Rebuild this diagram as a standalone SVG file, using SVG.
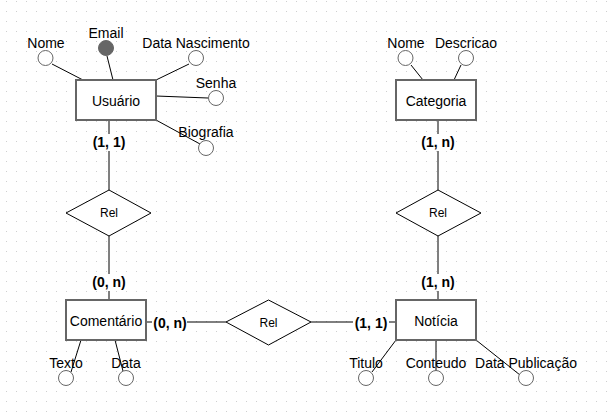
<svg xmlns="http://www.w3.org/2000/svg" width="610" height="412" viewBox="0 0 610 412">
<defs>
<pattern id="grid" x="6" y="1" width="10" height="10" patternUnits="userSpaceOnUse">
<rect x="0" y="0" width="1" height="1" fill="#cfcfcf"/>
</pattern>
<style>
.ent{fill:#fff;stroke:#666;stroke-width:2}
.rel{fill:#fff;stroke:#000;stroke-width:1}
.att{fill:#fff;stroke:#666;stroke-width:1}
.key{fill:#666;stroke:#666;stroke-width:1}
.ln{stroke:#000;stroke-width:1;fill:none}
text{font-family:"Liberation Sans",Arial,sans-serif;font-size:14px;fill:#000;text-anchor:middle;dominant-baseline:central}
.small{font-size:12px}
.card{font-weight:bold}
.bg{fill:#fff}
</style>
</defs>
<rect width="610" height="412" fill="#fff"/>
<rect width="610" height="412" fill="url(#grid)"/>

<g id="connectors">
<line class="ln" x1="52" y1="64" x2="83" y2="80"/>
<line class="ln" x1="107" y1="56" x2="113" y2="80"/>
<line class="ln" x1="189" y1="64" x2="156" y2="80"/>
<line class="ln" x1="156" y1="96" x2="208" y2="98"/>
<line class="ln" x1="156" y1="120" x2="200" y2="144"/>
<line class="ln" x1="411" y1="65" x2="423" y2="80"/>
<line class="ln" x1="461" y1="65" x2="454" y2="80"/>
<line class="ln" x1="81" y1="340" x2="71" y2="372"/>
<line class="ln" x1="115" y1="340" x2="123" y2="371"/>
<line class="ln" x1="396" y1="340" x2="372" y2="372"/>
<line class="ln" x1="436" y1="340" x2="436" y2="371"/>
<line class="ln" x1="476" y1="340" x2="520" y2="375"/>
<line class="ln" x1="109" y1="120" x2="109" y2="190"/>
<line class="ln" x1="109" y1="236" x2="109" y2="300"/>
<line class="ln" x1="438" y1="120" x2="438" y2="190"/>
<line class="ln" x1="438" y1="236" x2="438" y2="300"/>
<line class="ln" x1="146" y1="322" x2="226" y2="322"/>
<line class="ln" x1="311" y1="322" x2="396" y2="322"/>
<g id="card-usuario"><rect class="bg" x="91" y="134" width="36" height="17"/><text class="card" x="109" y="142">(1, 1)</text></g>
<g id="card-comentario-top"><rect class="bg" x="91" y="274" width="36" height="17"/><text class="card" x="109" y="282">(0, n)</text></g>
<g id="card-categoria"><rect class="bg" x="420" y="134" width="36" height="17"/><text class="card" x="438" y="142">(1, n)</text></g>
<g id="card-noticia-top"><rect class="bg" x="420" y="274" width="36" height="17"/><text class="card" x="438" y="282">(1, n)</text></g>
<g id="card-comentario-right"><rect class="bg" x="152" y="315" width="35" height="17"/><text class="card" x="170" y="323">(0, n)</text></g>
<g id="card-noticia-left"><rect class="bg" x="353" y="315" width="36" height="17"/><text class="card" x="371" y="323">(1, 1)</text></g>
</g>

<g id="usuario"><rect class="ent" x="76" y="80" width="80" height="40"/><text x="116" y="101">Usuário</text></g>
<g id="usuario-nome"><circle class="att" cx="45.5" cy="58" r="7.5"/><text x="46" y="43">Nome</text></g>
<g id="usuario-email"><circle class="key" cx="106" cy="48" r="7.5"/><text x="106" y="33">Email</text></g>
<g id="usuario-datanasc"><circle class="att" cx="196" cy="58" r="7.5"/><text x="196" y="43">Data Nascimento</text></g>
<g id="usuario-senha"><circle class="att" cx="216" cy="98" r="7.5"/><text x="216" y="83">Senha</text></g>
<g id="usuario-biografia"><circle class="att" cx="206" cy="148" r="7.5"/><text x="206" y="132">Biografia</text></g>

<g id="categoria"><rect class="ent" x="396" y="80" width="80" height="40"/><text x="436" y="101">Categoria</text></g>
<g id="categoria-nome"><circle class="att" cx="405.5" cy="58" r="7.5"/><text x="406" y="43">Nome</text></g>
<g id="categoria-descricao"><circle class="att" cx="466" cy="58" r="7.5"/><text x="466" y="43">Descricao</text></g>

<g id="rel1"><polygon class="rel" points="109,190 151,213 109,236 66,213"/><text class="small" x="109" y="213">Rel</text></g>
<g id="rel3"><polygon class="rel" points="438,190 481,213 438,236 396,213"/><text class="small" x="438" y="213">Rel</text></g>
<g id="rel2"><polygon class="rel" points="268.5,300 311,322 268.5,345 226,322"/><text class="small" x="268.5" y="323">Rel</text></g>

<g id="comentario"><rect class="ent" x="66" y="300" width="80" height="40"/><text x="106" y="321">Comentário</text></g>
<g id="comentario-texto"><circle class="att" cx="66" cy="378" r="7.5"/><text x="66" y="363">Texto</text></g>
<g id="comentario-data"><circle class="att" cx="126" cy="378" r="7.5"/><text x="126" y="363">Data</text></g>

<g id="noticia"><rect class="ent" x="396" y="300" width="80" height="40"/><text x="436" y="321">Notícia</text></g>
<g id="noticia-titulo"><circle class="att" cx="366" cy="378" r="7.5"/><text x="366" y="363">Titulo</text></g>
<g id="noticia-conteudo"><circle class="att" cx="436" cy="378" r="7.5"/><text x="436" y="363">Conteudo</text></g>
<g id="noticia-datapub"><circle class="att" cx="526" cy="378" r="7.5"/><text x="526" y="363">Data Publicação</text></g>
</svg>
